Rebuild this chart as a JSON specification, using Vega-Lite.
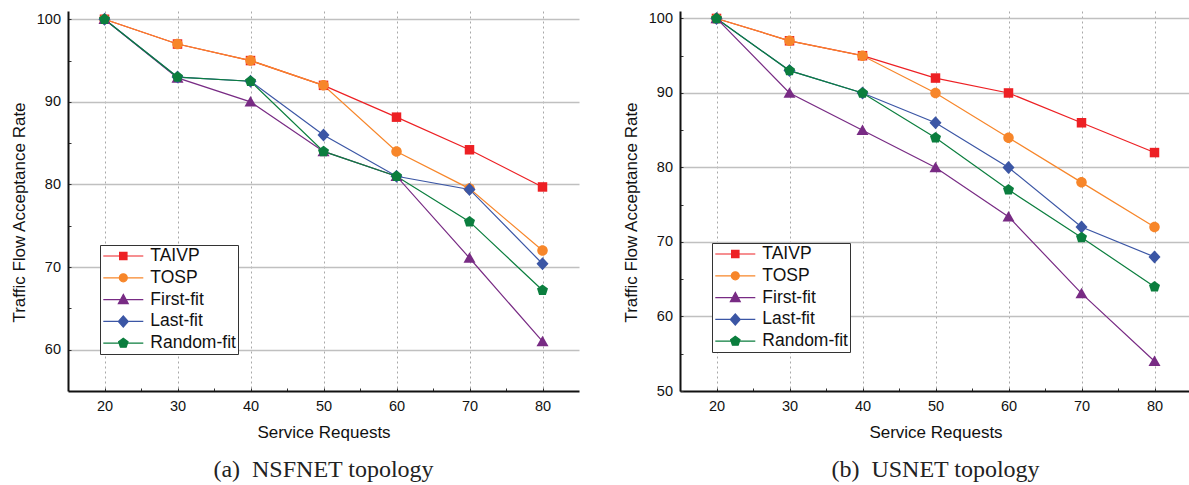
{
  "$schema": "https://vega.github.io/schema/vega-lite/v6.json",
  "padding": {"left": 10, "top": 10, "right": 0, "bottom": 0},
  "background": "white",
  "config": {
    "font": "Liberation Sans",
    "view": {"stroke": null},
    "axis": {
      "domainColor": "#111", "domainWidth": 2,
      "tickColor": "#333", "tickWidth": 1, "tickSize": -3,
      "labelFont": "Liberation Sans", "labelFontSize": 14.5, "labelColor": "#111",
      "titleFont": "Liberation Sans", "titleFontSize": 17, "titleFontWeight": "normal", "titleColor": "#111",
      "gridColor": "#c0c0c0", "gridWidth": 1.4
    },
    "axisX": {"gridDash": [2, 3], "gridColor": "#a8a8a8", "gridWidth": 1, "labelPadding": 11, "titlePadding": 12},
    "axisY": {"labelPadding": 10.5, "titlePadding": 8, "titleY": 201},
    "legend": {
      "orient": "none", "legendX": 32, "legendY": 234,
      "strokeColor": "#333", "fillColor": "white", "padding": 2, "cornerRadius": 0,
      "labelFont": "Liberation Sans", "labelFontSize": 17.5, "labelColor": "#111", "labelLimit": 300,
      "symbolSize": 256, "symbolStrokeWidth": 1.2, "symbolOffset": 12.3, "labelOffset": 18,
      "rowPadding": 3.8, "symbolOpacity": 1
    },
    "title": {"font": "Liberation Serif", "fontSize": 24, "fontWeight": "normal", "color": "#222"}
  },
  "datasets": {
    "d": [
      {"topology": "NSFNET", "series": "TAIVP", "requests": 20, "rate": 100},
      {"topology": "NSFNET", "series": "TAIVP", "requests": 30, "rate": 97},
      {"topology": "NSFNET", "series": "TAIVP", "requests": 40, "rate": 95},
      {"topology": "NSFNET", "series": "TAIVP", "requests": 50, "rate": 92},
      {"topology": "NSFNET", "series": "TAIVP", "requests": 60, "rate": 88.15},
      {"topology": "NSFNET", "series": "TAIVP", "requests": 70, "rate": 84.2},
      {"topology": "NSFNET", "series": "TAIVP", "requests": 80, "rate": 79.7},
      {"topology": "NSFNET", "series": "TOSP", "requests": 20, "rate": 100},
      {"topology": "NSFNET", "series": "TOSP", "requests": 30, "rate": 97},
      {"topology": "NSFNET", "series": "TOSP", "requests": 40, "rate": 95},
      {"topology": "NSFNET", "series": "TOSP", "requests": 50, "rate": 92},
      {"topology": "NSFNET", "series": "TOSP", "requests": 60, "rate": 84},
      {"topology": "NSFNET", "series": "TOSP", "requests": 70, "rate": 79.5},
      {"topology": "NSFNET", "series": "TOSP", "requests": 80, "rate": 72},
      {"topology": "NSFNET", "series": "First-fit", "requests": 20, "rate": 100},
      {"topology": "NSFNET", "series": "First-fit", "requests": 30, "rate": 92.9},
      {"topology": "NSFNET", "series": "First-fit", "requests": 40, "rate": 90},
      {"topology": "NSFNET", "series": "First-fit", "requests": 50, "rate": 84},
      {"topology": "NSFNET", "series": "First-fit", "requests": 60, "rate": 81},
      {"topology": "NSFNET", "series": "First-fit", "requests": 70, "rate": 71.1},
      {"topology": "NSFNET", "series": "First-fit", "requests": 80, "rate": 61},
      {"topology": "NSFNET", "series": "Last-fit", "requests": 20, "rate": 100},
      {"topology": "NSFNET", "series": "Last-fit", "requests": 30, "rate": 93},
      {"topology": "NSFNET", "series": "Last-fit", "requests": 40, "rate": 92.5},
      {"topology": "NSFNET", "series": "Last-fit", "requests": 50, "rate": 86},
      {"topology": "NSFNET", "series": "Last-fit", "requests": 60, "rate": 81},
      {"topology": "NSFNET", "series": "Last-fit", "requests": 70, "rate": 79.4},
      {"topology": "NSFNET", "series": "Last-fit", "requests": 80, "rate": 70.4},
      {"topology": "NSFNET", "series": "Random-fit", "requests": 20, "rate": 100},
      {"topology": "NSFNET", "series": "Random-fit", "requests": 30, "rate": 93},
      {"topology": "NSFNET", "series": "Random-fit", "requests": 40, "rate": 92.5},
      {"topology": "NSFNET", "series": "Random-fit", "requests": 50, "rate": 84},
      {"topology": "NSFNET", "series": "Random-fit", "requests": 60, "rate": 81},
      {"topology": "NSFNET", "series": "Random-fit", "requests": 70, "rate": 75.5},
      {"topology": "NSFNET", "series": "Random-fit", "requests": 80, "rate": 67.2},
      {"topology": "USNET", "series": "TAIVP", "requests": 20, "rate": 100},
      {"topology": "USNET", "series": "TAIVP", "requests": 30, "rate": 97},
      {"topology": "USNET", "series": "TAIVP", "requests": 40, "rate": 95},
      {"topology": "USNET", "series": "TAIVP", "requests": 50, "rate": 92},
      {"topology": "USNET", "series": "TAIVP", "requests": 60, "rate": 90},
      {"topology": "USNET", "series": "TAIVP", "requests": 70, "rate": 86},
      {"topology": "USNET", "series": "TAIVP", "requests": 80, "rate": 82},
      {"topology": "USNET", "series": "TOSP", "requests": 20, "rate": 100},
      {"topology": "USNET", "series": "TOSP", "requests": 30, "rate": 97},
      {"topology": "USNET", "series": "TOSP", "requests": 40, "rate": 95},
      {"topology": "USNET", "series": "TOSP", "requests": 50, "rate": 90},
      {"topology": "USNET", "series": "TOSP", "requests": 60, "rate": 84},
      {"topology": "USNET", "series": "TOSP", "requests": 70, "rate": 78},
      {"topology": "USNET", "series": "TOSP", "requests": 80, "rate": 72},
      {"topology": "USNET", "series": "First-fit", "requests": 20, "rate": 100},
      {"topology": "USNET", "series": "First-fit", "requests": 30, "rate": 90},
      {"topology": "USNET", "series": "First-fit", "requests": 40, "rate": 85},
      {"topology": "USNET", "series": "First-fit", "requests": 50, "rate": 80},
      {"topology": "USNET", "series": "First-fit", "requests": 60, "rate": 73.4},
      {"topology": "USNET", "series": "First-fit", "requests": 70, "rate": 63.1},
      {"topology": "USNET", "series": "First-fit", "requests": 80, "rate": 54},
      {"topology": "USNET", "series": "Last-fit", "requests": 20, "rate": 100},
      {"topology": "USNET", "series": "Last-fit", "requests": 30, "rate": 93},
      {"topology": "USNET", "series": "Last-fit", "requests": 40, "rate": 90},
      {"topology": "USNET", "series": "Last-fit", "requests": 50, "rate": 86},
      {"topology": "USNET", "series": "Last-fit", "requests": 60, "rate": 80},
      {"topology": "USNET", "series": "Last-fit", "requests": 70, "rate": 72},
      {"topology": "USNET", "series": "Last-fit", "requests": 80, "rate": 68},
      {"topology": "USNET", "series": "Random-fit", "requests": 20, "rate": 100},
      {"topology": "USNET", "series": "Random-fit", "requests": 30, "rate": 93},
      {"topology": "USNET", "series": "Random-fit", "requests": 40, "rate": 90},
      {"topology": "USNET", "series": "Random-fit", "requests": 50, "rate": 84},
      {"topology": "USNET", "series": "Random-fit", "requests": 60, "rate": 77},
      {"topology": "USNET", "series": "Random-fit", "requests": 70, "rate": 70.6},
      {"topology": "USNET", "series": "Random-fit", "requests": 80, "rate": 64}
    ]
  },
  "spacing": 43,
  "resolve": {
    "scale": {"color": "independent", "shape": "independent", "stroke": "independent", "x": "independent", "y": "independent"},
    "legend": {"color": "independent", "shape": "independent", "stroke": "independent"}
  },
  "hconcat": [
    {
      "width": 511, "height": 380,
      "title": {"text": "(a)\u00a0 NSFNET topology", "orient": "bottom", "anchor": "middle", "frame": "group", "offset": 17},
      "data": {"name": "d"},
      "transform": [{"filter": "datum.topology === 'NSFNET'"}],
      "encoding": {
        "x": {"field": "requests", "type": "quantitative", "scale": {"domain": [15, 85], "nice": false, "zero": false},
          "axis": {"title": "Service Requests", "values": [20, 25, 30, 35, 40, 45, 50, 55, 60, 65, 70, 75, 80],
            "labelExpr": "datum.value % 10 === 0 ? datum.label : ''",
            "gridOpacity": {"condition": {"test": "datum.value % 10 === 0", "value": 1}, "value": 0}}},
        "y": {"field": "rate", "type": "quantitative", "scale": {"domain": [55, 101], "nice": false, "zero": false},
          "axis": {"title": "Traffic Flow Acceptance Rate", "values": [60, 65, 70, 75, 80, 85, 90, 95, 100],
            "labelExpr": "datum.value % 10 === 0 ? datum.label : ''",
            "gridOpacity": {"condition": {"test": "datum.value % 10 === 0", "value": 1}, "value": 0}}}
      },
      "layer": [
        {
          "mark": {"type": "line", "strokeWidth": 1.2},
          "encoding": {
            "color": {"field": "series", "type": "nominal", "legend": null,
              "scale": {"domain": ["TAIVP", "TOSP", "First-fit", "Last-fit", "Random-fit"], "range": ["#ED2024", "#F7862A", "#782B84", "#3B56A5", "#0B7E3E"]}}
          }
        },
        {
          "mark": {"type": "point", "filled": true, "size": 100, "opacity": 1},
          "encoding": {
            "color": {"field": "series", "type": "nominal", "legend": null,
              "scale": {"domain": ["TAIVP", "TOSP", "First-fit", "Last-fit", "Random-fit"], "range": ["#ED2024", "#F7862A", "#782B84", "#3B56A5", "#0B7E3E"]}},
            "shape": {"field": "series", "type": "nominal", "legend": null,
              "scale": {"domain": ["TAIVP", "TOSP", "First-fit", "Last-fit", "Random-fit"],
                "range": ["M-0.95,-0.95H0.95V0.95H-0.95Z", "M1.05,0A1.05,1.05 0 1,1 -1.05,0A1.05,1.05 0 1,1 1.05,0Z", "M0,-1.15L1.2,0.95H-1.2Z", "M0,-1.3L1.2,0L0,1.3L-1.2,0Z", "M0,-1.15L1.1,-0.35L0.68,0.95L-0.68,0.95L-1.1,-0.35Z"]}}
          }
        },
        {
          "mark": {"type": "point", "filled": true, "opacity": 0},
          "encoding": {
            "color": {"field": "series", "type": "nominal", "legend": {"title": null},
              "scale": {"domain": ["TAIVP", "TOSP", "First-fit", "Last-fit", "Random-fit"], "range": ["#ED2024", "#F7862A", "#782B84", "#3B56A5", "#0B7E3E"]}},
            "stroke": {"field": "series", "type": "nominal", "legend": {"title": null},
              "scale": {"domain": ["TAIVP", "TOSP", "First-fit", "Last-fit", "Random-fit"], "range": ["#ED2024", "#F7862A", "#782B84", "#3B56A5", "#0B7E3E"]}},
            "shape": {"field": "series", "type": "nominal", "legend": {"title": null},
              "scale": {"domain": ["TAIVP", "TOSP", "First-fit", "Last-fit", "Random-fit"],
                "range": ["M-2.5,0H2.5M-0.46,-0.46H0.46V0.46H-0.46Z", "M-2.5,0H2.5M0.5,0A0.5,0.5 0 1,1 -0.5,0A0.5,0.5 0 1,1 0.5,0Z", "M-2.5,0H2.5M0,-0.65L0.62,0.5H-0.62Z", "M-2.5,0H2.5M0,-0.7L0.62,0L0,0.7L-0.62,0Z", "M-2.5,0H2.5M0,-0.62L0.59,-0.19L0.36,0.5L-0.36,0.5L-0.59,-0.19Z"]}}
          }
        }
      ],
      "resolve": {
        "scale": {"color": "independent", "shape": "independent", "stroke": "independent"},
        "legend": {"color": "independent", "shape": "independent", "stroke": "independent"}
      }
    },
    {
      "width": 511, "height": 380,
      "title": {"text": "(b)\u00a0 USNET topology", "orient": "bottom", "anchor": "middle", "frame": "group", "offset": 17},
      "data": {"name": "d"},
      "transform": [{"filter": "datum.topology === 'USNET'"}],
      "encoding": {
        "x": {"field": "requests", "type": "quantitative", "scale": {"domain": [15, 85], "nice": false, "zero": false},
          "axis": {"title": "Service Requests", "values": [20, 25, 30, 35, 40, 45, 50, 55, 60, 65, 70, 75, 80],
            "labelExpr": "datum.value % 10 === 0 ? datum.label : ''",
            "gridOpacity": {"condition": {"test": "datum.value % 10 === 0", "value": 1}, "value": 0}}},
        "y": {"field": "rate", "type": "quantitative", "scale": {"domain": [50, 101], "nice": false, "zero": false},
          "axis": {"title": "Traffic Flow Acceptance Rate", "values": [50, 55, 60, 65, 70, 75, 80, 85, 90, 95, 100],
            "labelExpr": "datum.value % 10 === 0 ? datum.label : ''",
            "gridOpacity": {"condition": {"test": "datum.value % 10 === 0 && datum.value > 50", "value": 1}, "value": 0}}}
      },
      "layer": [
        {
          "mark": {"type": "line", "strokeWidth": 1.2},
          "encoding": {
            "color": {"field": "series", "type": "nominal", "legend": null,
              "scale": {"domain": ["TAIVP", "TOSP", "First-fit", "Last-fit", "Random-fit"], "range": ["#ED2024", "#F7862A", "#782B84", "#3B56A5", "#0B7E3E"]}}
          }
        },
        {
          "mark": {"type": "point", "filled": true, "size": 100, "opacity": 1},
          "encoding": {
            "color": {"field": "series", "type": "nominal", "legend": null,
              "scale": {"domain": ["TAIVP", "TOSP", "First-fit", "Last-fit", "Random-fit"], "range": ["#ED2024", "#F7862A", "#782B84", "#3B56A5", "#0B7E3E"]}},
            "shape": {"field": "series", "type": "nominal", "legend": null,
              "scale": {"domain": ["TAIVP", "TOSP", "First-fit", "Last-fit", "Random-fit"],
                "range": ["M-0.95,-0.95H0.95V0.95H-0.95Z", "M1.05,0A1.05,1.05 0 1,1 -1.05,0A1.05,1.05 0 1,1 1.05,0Z", "M0,-1.15L1.2,0.95H-1.2Z", "M0,-1.3L1.2,0L0,1.3L-1.2,0Z", "M0,-1.15L1.1,-0.35L0.68,0.95L-0.68,0.95L-1.1,-0.35Z"]}}
          }
        },
        {
          "mark": {"type": "point", "filled": true, "opacity": 0},
          "encoding": {
            "color": {"field": "series", "type": "nominal", "legend": {"title": null, "legendY": 232},
              "scale": {"domain": ["TAIVP", "TOSP", "First-fit", "Last-fit", "Random-fit"], "range": ["#ED2024", "#F7862A", "#782B84", "#3B56A5", "#0B7E3E"]}},
            "stroke": {"field": "series", "type": "nominal", "legend": {"title": null, "legendY": 232},
              "scale": {"domain": ["TAIVP", "TOSP", "First-fit", "Last-fit", "Random-fit"], "range": ["#ED2024", "#F7862A", "#782B84", "#3B56A5", "#0B7E3E"]}},
            "shape": {"field": "series", "type": "nominal", "legend": {"title": null, "legendY": 232},
              "scale": {"domain": ["TAIVP", "TOSP", "First-fit", "Last-fit", "Random-fit"],
                "range": ["M-2.5,0H2.5M-0.46,-0.46H0.46V0.46H-0.46Z", "M-2.5,0H2.5M0.5,0A0.5,0.5 0 1,1 -0.5,0A0.5,0.5 0 1,1 0.5,0Z", "M-2.5,0H2.5M0,-0.65L0.62,0.5H-0.62Z", "M-2.5,0H2.5M0,-0.7L0.62,0L0,0.7L-0.62,0Z", "M-2.5,0H2.5M0,-0.62L0.59,-0.19L0.36,0.5L-0.36,0.5L-0.59,-0.19Z"]}}
          }
        }
      ],
      "resolve": {
        "scale": {"color": "independent", "shape": "independent", "stroke": "independent"},
        "legend": {"color": "independent", "shape": "independent", "stroke": "independent"}
      }
    }
  ]
}
